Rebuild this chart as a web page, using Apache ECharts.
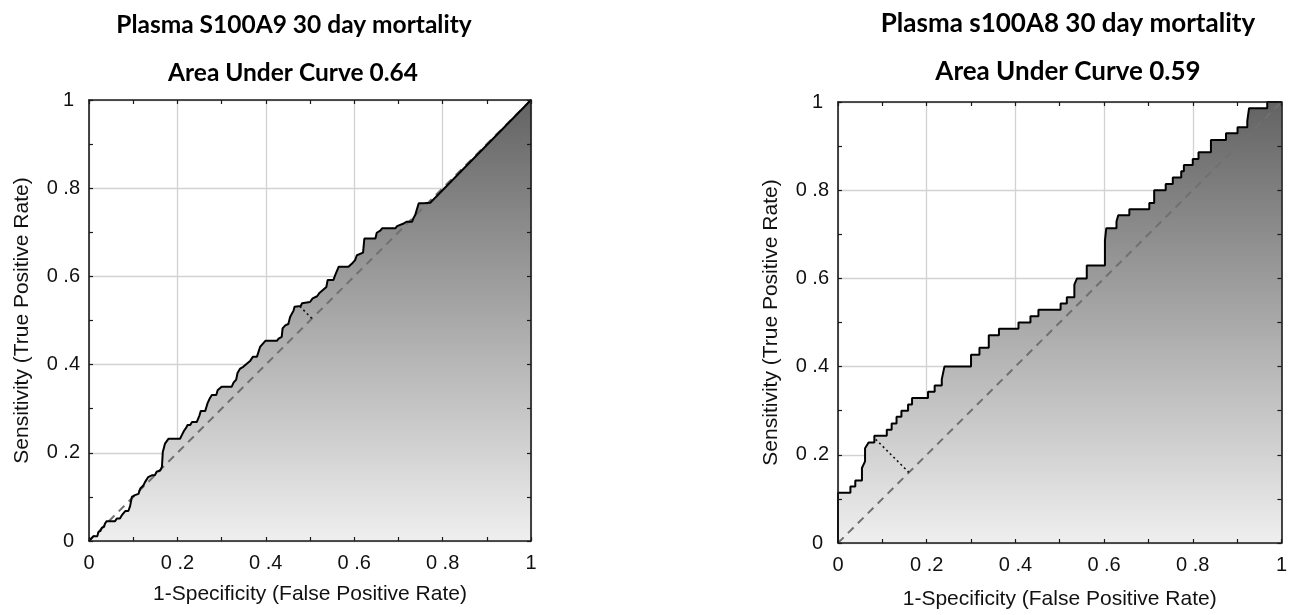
<!DOCTYPE html>
<html>
<head>
<meta charset="utf-8">
<script src="https://cdn.jsdelivr.net/npm/echarts@6/dist/echarts.min.js"></script>
<style>
html,body{margin:0;padding:0;background:#fff;}
#chart{width:1290px;height:615px;}
</style>
</head>
<body>
<div id="chart"></div>
<script>
// ---- Data ----
const tickLabels = ['0', '0 .2', '0 .4', '0 .6', '0 .8', '1'];

const leftTitle = 'Plasma S100A9 30 day mortality';
const leftSubtitle = 'Area Under Curve 0.64';
const rightTitle = 'Plasma s100A8 30 day mortality';
const rightSubtitle = 'Area Under Curve 0.59';
const xName = '1-Specificity (False Positive Rate)';
const yName = 'Sensitivity (True Positive Rate)';

const leftFpr = [0,0.010,0.019,0.021,0.026,0.029,0.034,0.036,0.040,0.059,0.063,0.070,0.074,0.078,0.082,0.089,0.093,0.097,0.104,0.112,0.116,0.123,0.127,0.134,0.142,0.149,0.153,0.161,0.165,0.167,0.172,0.180,0.206,0.210,0.215,0.220,0.223,0.229,0.233,0.244,0.250,0.253,0.263,0.268,0.273,0.278,0.288,0.291,0.300,0.323,0.327,0.333,0.336,0.342,0.349,0.357,0.365,0.371,0.380,0.387,0.391,0.399,0.425,0.429,0.436,0.438,0.444,0.451,0.455,0.463,0.465,0.479,0.482,0.485,0.500,0.506,0.516,0.522,0.525,0.537,0.540,0.553,0.557,0.565,0.587,0.595,0.602,0.606,0.620,0.623,0.648,0.651,0.659,0.663,0.693,0.697,0.712,0.718,0.731,0.734,0.738,0.746,0.757,0.772,1];
const leftTpr = [0,0.011,0.011,0.020,0.023,0.030,0.032,0.039,0.045,0.045,0.051,0.051,0.058,0.062,0.068,0.068,0.079,0.100,0.104,0.107,0.119,0.126,0.134,0.145,0.149,0.149,0.157,0.160,0.168,0.202,0.221,0.232,0.232,0.240,0.250,0.257,0.263,0.263,0.270,0.270,0.285,0.295,0.295,0.312,0.323,0.331,0.331,0.342,0.350,0.350,0.359,0.366,0.381,0.391,0.395,0.402,0.409,0.418,0.418,0.440,0.444,0.454,0.454,0.459,0.463,0.482,0.489,0.492,0.508,0.523,0.531,0.533,0.539,0.542,0.542,0.550,0.555,0.563,0.565,0.576,0.592,0.592,0.603,0.622,0.622,0.629,0.637,0.648,0.654,0.686,0.686,0.699,0.704,0.709,0.709,0.714,0.720,0.724,0.724,0.732,0.739,0.766,0.766,0.767,1];

const rightFpr = [0,0,0.028,0.028,0.039,0.039,0.054,0.054,0.061,0.061,0.069,0.082,0.082,0.110,0.110,0.121,0.121,0.132,0.132,0.143,0.143,0.158,0.158,0.167,0.167,0.203,0.203,0.218,0.218,0.234,0.234,0.240,0.300,0.300,0.319,0.319,0.340,0.340,0.363,0.363,0.407,0.407,0.434,0.434,0.452,0.452,0.502,0.502,0.516,0.516,0.533,0.533,0.539,0.561,0.561,0.602,0.602,0.605,0.628,0.628,0.632,0.657,0.657,0.702,0.702,0.713,0.713,0.739,0.739,0.755,0.755,0.774,0.774,0.780,0.780,0.800,0.800,0.813,0.813,0.841,0.841,0.875,0.875,0.901,0.901,0.923,0.923,0.927,0.968,0.968,1];
const rightTpr = [0,0.114,0.114,0.128,0.128,0.142,0.142,0.170,0.185,0.215,0.228,0.228,0.243,0.243,0.257,0.257,0.271,0.271,0.286,0.286,0.300,0.300,0.314,0.314,0.329,0.329,0.343,0.343,0.357,0.357,0.371,0.400,0.400,0.427,0.427,0.443,0.443,0.471,0.471,0.486,0.486,0.500,0.500,0.514,0.514,0.529,0.529,0.543,0.543,0.557,0.557,0.586,0.600,0.600,0.629,0.629,0.686,0.714,0.714,0.729,0.743,0.743,0.757,0.757,0.771,0.771,0.800,0.800,0.814,0.814,0.829,0.829,0.843,0.843,0.857,0.857,0.871,0.871,0.886,0.886,0.914,0.914,0.929,0.929,0.943,0.943,0.957,0.986,0.986,1,1];

const chanceX = [0, 1];
const chanceY = [0, 1];
const leftCutX = [0.477, 0.5045];
const leftCutY = [0.532, 0.5045];
const rightCutX = [0.085, 0.16];
const rightCutY = [0.235, 0.16];

// ---- Helpers ----
const zip = (xs, ys) => xs.map((x, i) => [x, ys[i]]);
const FONT = 'Liberation Sans';
const TITLE_FONT = 'Lato';
const tickFmt = v => tickLabels[Math.round(v / 0.2)];

function grids() {
  return [
    {left: 89, top: 100, width: 442, height: 441},
    {left: 838, top: 102, width: 446, height: 447}
  ];
}

function frameAxis(gi, pos) {
  return {
    type: 'value', gridIndex: gi, min: 0, max: 1, interval: 0.2, position: pos, z: 6,
    axisLine: {show: true, onZero: false, lineStyle: {color: '#1a1a1a', width: 1.6}},
    axisTick: {show: true, inside: true, length: 4, lineStyle: {color: '#1a1a1a', width: 1.2}},
    minorTick: {show: true, splitNumber: 2, length: 4, lineStyle: {color: '#1a1a1a', width: 1.2}},
    axisLabel: {show: false}, splitLine: {show: false}
  };
}

function mainX(gi, nameGap) {
  return {
    type: 'value', gridIndex: gi, min: 0, max: 1, interval: 0.2, position: 'bottom', z: 0,
    axisLine: {show: false}, axisTick: {show: false},
    splitLine: {show: true, lineStyle: {color: '#d2d2d2', width: 1.3}},
    axisLabel: {show: true, margin: 12, formatter: tickFmt, fontFamily: FONT, fontSize: 20, color: '#111'},
    name: xName, nameLocation: 'middle', nameGap: nameGap,
    nameTextStyle: {fontFamily: FONT, fontSize: 21, color: '#111'}
  };
}

function mainY(gi, nameGap) {
  return {
    type: 'value', gridIndex: gi, min: 0, max: 1, interval: 0.2, position: 'left', z: 0,
    axisLine: {show: false}, axisTick: {show: false},
    splitLine: {show: true, lineStyle: {color: '#d2d2d2', width: 1.3}},
    axisLabel: {
      show: true, margin: 9, fontFamily: FONT, fontSize: 20, color: '#111',
      formatter: v => {
        const s = tickFmt(v);
        return (v === 0 || v === 1) ? '{e|' + s + '}' : s;
      },
      rich: {e: {padding: [0, 6, 0, 0], fontFamily: FONT, fontSize: 20, color: '#111'}}
    },
    name: yName, nameLocation: 'middle', nameGap: nameGap, nameRotate: 90,
    nameTextStyle: {fontFamily: FONT, fontSize: 21, color: '#111'}
  };
}

const gradient = {
  type: 'linear', x: 0, y: 0, x2: 0, y2: 1,
  colorStops: [{offset: 0, color: '#636363'}, {offset: 1, color: '#efefef'}]
};

function rocSeries(xi, yi, xs, ys, cx, cy) {
  const data = zip(xs, ys);
  return [
    {type: 'line', xAxisIndex: xi, yAxisIndex: yi, data: data, showSymbol: false, silent: true,
     lineStyle: {width: 0, opacity: 0}, areaStyle: {color: gradient, opacity: 1, origin: 'start'}, z: 2},
    {type: 'line', xAxisIndex: xi, yAxisIndex: yi, data: zip(chanceX, chanceY), showSymbol: false, silent: true,
     lineStyle: {color: '#707070', width: 2, type: [8, 6]}, z: 3},
    {type: 'line', xAxisIndex: xi, yAxisIndex: yi, data: zip(cx, cy), showSymbol: false, silent: true,
     lineStyle: {color: '#111', width: 1.6, type: [2, 3]}, z: 4},
    {type: 'line', xAxisIndex: xi, yAxisIndex: yi, data: data, showSymbol: false, silent: true,
     lineStyle: {color: '#000', width: 2}, z: 5}
  ];
}

const chart = echarts.init(document.getElementById('chart'), null, {renderer: 'canvas'});
chart.setOption({
  animation: false,
  backgroundColor: '#fff',
  grid: grids(),
  xAxis: [
    mainX(0, 43), frameAxis(0, 'bottom'), frameAxis(0, 'top'),
    mainX(1, 46), frameAxis(1, 'bottom'), frameAxis(1, 'top')
  ],
  yAxis: [
    mainY(0, 56), frameAxis(0, 'left'), frameAxis(0, 'right'),
    mainY(1, 56), frameAxis(1, 'left'), frameAxis(1, 'right')
  ],
  series: [].concat(
    rocSeries(0, 0, leftFpr, leftTpr, leftCutX, leftCutY),
    rocSeries(3, 3, rightFpr, rightTpr, rightCutX, rightCutY)
  ),
  graphic: [
    {type: 'text', x: 294, y: 25, style: {text: leftTitle, textAlign: 'center', textVerticalAlign: 'middle', fontFamily: TITLE_FONT, fontWeight: 'bold', fontSize: 24.5, fill: '#000'}},
    {type: 'text', x: 293, y: 73, style: {text: leftSubtitle, textAlign: 'center', textVerticalAlign: 'middle', fontFamily: TITLE_FONT, fontWeight: 'bold', fontSize: 24.5, fill: '#000'}},
    {type: 'text', x: 1068, y: 24, style: {text: rightTitle, textAlign: 'center', textVerticalAlign: 'middle', fontFamily: TITLE_FONT, fontWeight: 'bold', fontSize: 26, fill: '#000'}},
    {type: 'text', x: 1068, y: 72, style: {text: rightSubtitle, textAlign: 'center', textVerticalAlign: 'middle', fontFamily: TITLE_FONT, fontWeight: 'bold', fontSize: 26, fill: '#000'}}
  ]
});
</script>
</body>
</html>
